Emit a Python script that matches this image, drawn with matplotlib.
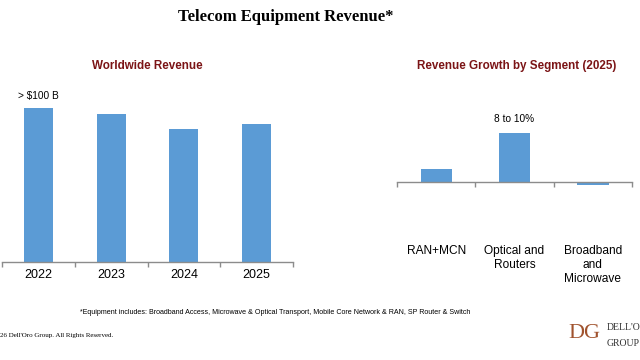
import matplotlib
matplotlib.use("Agg")
import matplotlib.pyplot as plt
import matplotlib.transforms as mtransforms

years = ["2022", "2023", "2024", "2025"]
revenue = [104, 100, 89.5, 92.8]          # $B (approx.)
segments = ["RAN+MCN", "Optical and\nRouters", "Broadband\nand\nMicrowave"]
growth = [2.4, 9.0, -0.5]                 # % growth 2025 (approx.)

BAR = "#5B9BD5"
DARKRED = "#7B1416"
AXIS = "#8C8C8C"

W, H = 640, 360
fig = plt.figure(figsize=(6.4, 3.6), dpi=100)
fig.patch.set_facecolor("white")

def px_axes(x0, y_top, x1, y_bot):
    return fig.add_axes([x0 / W, 1 - y_bot / H, (x1 - x0) / W, (y_bot - y_top) / H])

def style(ax):
    for s in ["top", "right", "left"]:
        ax.spines[s].set_visible(False)
    ax.spines["bottom"].set_color(AXIS)
    ax.spines["bottom"].set_linewidth(1.0)
    ax.set_yticks([])
    ax.set_xticks([])
    ax.patch.set_visible(False)

# Left chart: worldwide revenue
px_per = 154 / revenue[0]
ymax_l = 120
axl = px_axes(2, 261.7 - ymax_l * px_per, 293, 261.7)
style(axl)
xl = list(range(len(years)))
axl.bar(xl, revenue, width=0.4, color=BAR)
axl.set_xlim(-0.5, len(years) - 0.5)
axl.set_ylim(0, ymax_l)
axl.set_xticks([i - 0.5 for i in range(len(years) + 1)], minor=True)
axl.tick_params(axis="x", which="minor", length=3.5, color=AXIS, width=1.0, direction="out")
axl.set_xticks(xl)
axl.set_xticklabels(years, fontsize=9, family="Liberation Sans")
axl.tick_params(axis="x", which="major", length=0, pad=5)
axl.text(0, revenue[0] + 8, "> $100 B", ha="center", va="center", fontsize=7.3, family="Liberation Sans")

# Right chart: growth by segment
gpx = 49 / growth[1]
ytop_r, ybot_r = 15, -10
zero_y = 182.3
axr = px_axes(397, zero_y - ytop_r * gpx, 632, zero_y - ybot_r * gpx)
style(axr)
xr = list(range(len(segments)))
axr.bar(xr, growth, width=0.4, color=BAR)
axr.set_xlim(-0.5, len(segments) - 0.5)
axr.set_ylim(ybot_r, ytop_r)
axr.spines["bottom"].set_position(("data", 0))
axr.set_xticks([i - 0.5 for i in range(len(segments) + 1)], minor=True)
axr.tick_params(axis="x", which="minor", length=3.5, color=AXIS, width=1.0, direction="out")
axr.text(1, growth[1] + 2.6, "8 to 10%", ha="center", va="center", fontsize=7.3, family="Liberation Sans")
trans = mtransforms.blended_transform_factory(axr.transData, fig.transFigure)
for i, s in enumerate(segments):
    axr.text(i, 1 - 245 / H, s, transform=trans, ha="center", va="top", fontsize=8.6,
             family="Liberation Sans", linespacing=1.2)

# Titles
fig.text(286 / W, 1 - 17 / H, "Telecom Equipment Revenue*", ha="center", va="center",
         fontsize=12, fontweight="bold", family="Liberation Serif")
fig.text(147.5 / W, 1 - 66 / H, "Worldwide Revenue", ha="center", va="center",
         fontsize=8.4, fontweight="bold", color=DARKRED, family="Liberation Sans")
fig.text(517 / W, 1 - 66 / H, "Revenue Growth by Segment (2025)", ha="center", va="center",
         fontsize=8.4, fontweight="bold", color=DARKRED, family="Liberation Sans")

# Footer
fig.text(275 / W, 1 - 313 / H,
         "*Equipment includes: Broadband Access, Microwave & Optical Transport, Mobile Core Network & RAN, SP Router & Switch",
         ha="center", va="center", fontsize=5.1, family="Liberation Sans")
fig.text(0, 1 - 335 / H, "26 Dell'Oro Group. All Rights Reserved.", ha="left", va="center",
         fontsize=5.0, family="Liberation Serif")
LOGO = "#A0522D"
fig.text(584 / W, 1 - 333 / H, "DG", ha="center", va="center", fontsize=16,
         family="Liberation Serif", color=LOGO)
fig.text(607 / W, 1 - 328 / H, "DELL'ORO", ha="left", va="center", fontsize=7,
         family="Liberation Serif", color="#333333")
fig.text(607 / W, 1 - 343 / H, "GROUP", ha="left", va="center", fontsize=7,
         family="Liberation Serif", color="#333333")

fig.savefig("out.png", dpi=100, facecolor="white")
